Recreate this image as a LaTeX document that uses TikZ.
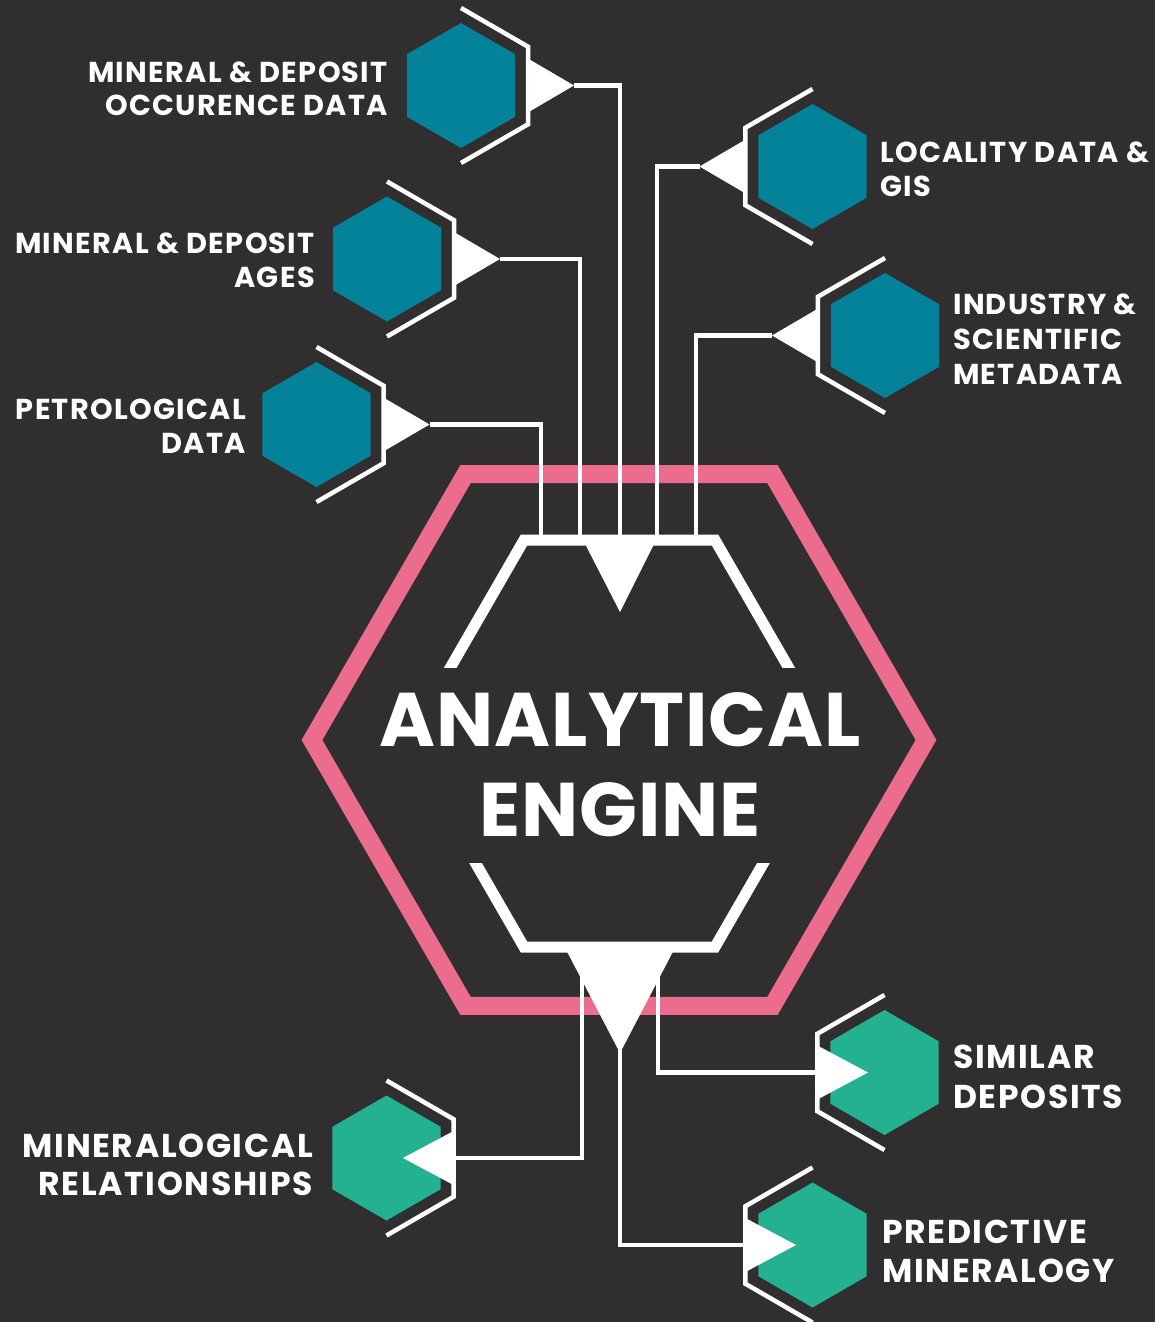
\documentclass[tikz,border=0pt]{standalone}
\usepackage{fontspec}
\setmainfont{Poppins}[UprightFont=* Bold, BoldFont=* Bold, LetterSpace=3]
\usetikzlibrary{shapes.geometric,calc}
\definecolor{bgc}{HTML}{302E2F}
\definecolor{tealc}{HTML}{03829A}
\definecolor{greenc}{HTML}{23B191}
\definecolor{pinkc}{HTML}{EC6C8E}
\newcommand\labfont{\fontsize{28.8}{34}\selectfont\addfontfeatures{LetterSpace=4.5}}
\newcommand\bigfont{\fontsize{33}{38}\selectfont\addfontfeatures{LetterSpace=5}}
\newcommand\engfont{\fontsize{76}{90}\selectfont\addfontfeatures{LetterSpace=1}}
% input hexagon: name, x, y, side of bracket (1 right, -1 left)
\newcommand\inhex[4]{%
  \node[hexnode, fill=tealc] (#1) at (#2,#3) {};
  \draw[bracketline] ($(#1.center)+(0,-77.5)$) -- ++(67.1*#4,38.75) -- ++(0,77.5) -- ++(-67.1*#4,38.75);
  \fill[white] ($(#1.center)+(66*#4,-27.5)$) -- ++(0,55) -- ($(#1.center)+(113*#4,0)$) coordinate (#1tip) -- cycle;
}
% output hexagon: arrow points into it
\newcommand\outhex[4]{%
  \node[hexnode, fill=greenc] (#1) at (#2,#3) {};
  \draw[bracketline] ($(#1.center)+(0,-77.5)$) -- ++(67.1*#4,38.75) -- ++(0,77.5) -- ++(-67.1*#4,38.75);
  \fill[white] ($(#1.center)+(68*#4,-27.5)$) -- ++(0,55) -- ($(#1.center)+(16.5*#4,0)$) -- cycle;
  \coordinate (#1in) at ($(#1.center)+(68*#4,0)$);
}
\tikzset{
  hexnode/.style={regular polygon, regular polygon sides=6, shape border rotate=30,
    minimum size=125pt, inner sep=0pt, outer sep=0pt, draw=none},
  bracketline/.style={white, line width=4.5pt, line join=miter},
  wire/.style={white, line width=4.5pt},
  lab/.style={font=\labfont, text=white, inner sep=0pt},
  blab/.style={font=\bigfont, text=white, inner sep=0pt},
  elab/.style={font=\engfont, text=white, inner sep=0pt, anchor=base},
  engineline/.style={white, line width=11pt, line join=miter},
}
\begin{document}
\begin{tikzpicture}[x=1pt,y=-1pt]
\useasboundingbox (0,0) rectangle (1155,1322);
\fill[bgc] (0,0) rectangle (1155,1322);

% analytical engine outline
\node[regular polygon, regular polygon sides=6, minimum size=614pt, inner sep=0pt, outer sep=0pt,
  draw=pinkc, line width=18pt] (engine) at (619,740) {};

% input hexagons
\inhex{hexA}{461}{85.5}{1}
\inhex{hexB}{812.5}{166.5}{-1}
\inhex{hexC}{387}{259}{1}
\inhex{hexD}{885}{335.5}{-1}
\inhex{hexE}{316.5}{424.5}{1}

% output hexagons
\outhex{outA}{386.5}{1158}{1}
\outhex{outB}{884.5}{1072.5}{-1}
\outhex{outC}{812.5}{1245}{-1}

% entry / exit points on the engine
\coordinate (eA) at (620,540);
\coordinate (eB) at (657,540);
\coordinate (eC) at (580,540);
\coordinate (eD) at (696,540);
\coordinate (eE) at (541,540);
\coordinate (xA) at (582,947);
\coordinate (xB) at (658,947);
\coordinate (xC) at (620,1050);

% wires
\draw[wire] (hexAtip) -| (eA);
\draw[wire] (hexBtip) -| (eB);
\draw[wire] (hexCtip) -| (eC);
\draw[wire] (hexDtip) -| (eD);
\draw[wire] (hexEtip) -| (eE);
\draw[wire] (xA) |- (outAin);
\draw[wire] (xB) |- (outBin);
\draw[wire] (xC) |- (outCin);

% inner white frame
\begin{scope}
  \clip (300,500) rectangle (940,667);
  \draw[engineline] (443.2,680) -- (524,540) -- (715,540) -- (795.8,680);
\end{scope}
\begin{scope}
  \clip (300,863) rectangle (940,990);
  \draw[engineline] (443.2,807) -- (524,947) -- (715,947) -- (795.8,807);
\end{scope}
\fill[white] (581,536) -- (658,536) -- (620,612) -- cycle;
\fill[white] (562,942) -- (678,942) -- (620,1053) -- cycle;

% labels
\node[lab, anchor=base east] (tA1) at (388,82) {MINERAL \& DEPOSIT};
\node[lab, anchor=base east] (tA2) at (388,115) {OCCURENCE DATA};
\node[lab, anchor=base west] (tB1) at (880,162) {LOCALITY DATA \&};
\node[lab, anchor=base west] (tB2) at (880,196) {GIS};
\node[lab, anchor=base east] (tC1) at (315,253) {MINERAL \& DEPOSIT};
\node[lab, anchor=base east] (tC2) at (315,287) {AGES};
\node[lab, anchor=base west] (tD1) at (953,314) {INDUSTRY \&};
\node[lab, anchor=base west] (tD2) at (953,349) {SCIENTIFIC};
\node[lab, anchor=base west] (tD3) at (953,384) {METADATA};
\node[lab, anchor=base east] (tE1) at (246,419) {PETROLOGICAL};
\node[lab, anchor=base east] (tE2) at (246,453) {DATA};

\node[elab] (eng1) at (620,746) {ANALYTICAL};
\node[elab] (eng2) at (620,836) {ENGINE};

\node[blab, anchor=base east] (oA1) at (313,1157) {MINERALOGICAL};
\node[blab, anchor=base east] (oA2) at (313,1195) {RELATIONSHIPS};
\node[blab, anchor=base west] (oB1) at (953,1068) {SIMILAR};
\node[blab, anchor=base west] (oB2) at (953,1108) {DEPOSITS};
\node[blab, anchor=base west] (oC1) at (882,1243) {PREDICTIVE};
\node[blab, anchor=base west] (oC2) at (882,1282) {MINERALOGY};
\end{tikzpicture}
\end{document}
